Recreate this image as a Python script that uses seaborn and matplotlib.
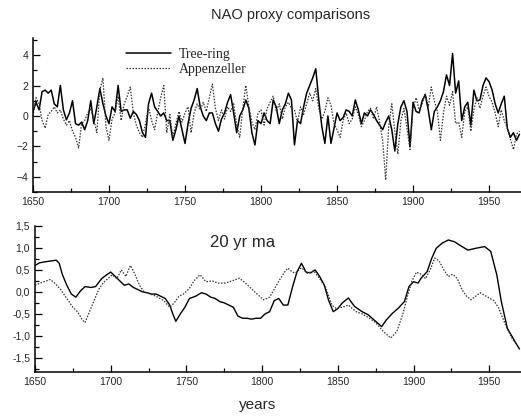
import numpy as np
import pandas as pd
import seaborn as sns
import matplotlib.pyplot as plt
from matplotlib.ticker import MultipleLocator, FuncFormatter

# annual proxies sampled every 2 years, 1650-1970
years = np.arange(1650, 1971, 2)
tree_ring = [0.3, 0.9, 0.4, 1.6, 1.7, 1.5, 1.7, 0.8, 0.6, 2.0,
             0.4, -0.25, 0.2, 1.0, -0.5, -0.6, -0.4, -0.9, -0.3, 1.0,
             -0.5, 0.6, 1.8, 0.8, 0.0, -0.5, 0.6, 0.3, 2.0, 0.3,
             0.4, 0.4, -0.15, 0.3, 0.1, -0.3, -1.1, -1.4, 0.8, 1.5,
             0.6, 0.3, 0.0, 0.2, -0.3, -0.3, -1.6, -0.9, 0.0, -0.9,
             -1.8, -0.5, 0.5, 1.05, 1.8, 0.6, 0.0, -0.3, 0.2, 0.2,
             -0.5, -1.0, -0.2, 0.2, 0.9, 1.4, 0.2, -1.1, 0.0, 0.4,
             1.05, 0.5, -1.1, -1.9, -0.3, -0.5, 0.2, -0.3, -0.5, 1.05,
             0.6, -0.5, 0.4, 0.8, 1.5, 1.05, -1.9, -0.3, -0.5, 0.6,
             1.5, 2.0, 2.5, 3.1, 1.05, -0.7, -1.8, 0.0, -1.8, -0.8,
             0.2, -0.3, -0.1, 0.4, 0.3, 0.0, 1.05, 0.4, -0.5, 0.2,
             0.0, 0.4, 0.1, -0.3, -0.6, -0.9, -0.4, 0.0, -0.9, -2.3,
             -0.5, 0.6, 1.0, 0.3, -2.0, 0.9, 0.3, 0.2, 1.0, 1.4,
             0.4, -0.9, 0.3, 0.6, 1.0, 1.6, 2.7, 2.0, 4.1, 1.5,
             2.3, -0.3, 0.6, 0.9, -0.6, 1.7, 1.0, 1.05, 2.0, 2.5,
             2.25, 1.7, 0.8, 0.2, 0.8, 1.3, -0.8, -1.4, -1.1, -1.6,
             -1.2]
appenzeller = [0.0, 1.2, 0.8, -0.3, -0.8, 0.1, 0.3, 0.6, 0.2, 0.4,
               -0.2, -0.6, -0.3, -1.0, -1.4, -2.1, -0.5, -0.3, 0.2, 0.5,
               -0.2, -1.1, 1.7, 2.5, -0.7, -1.6, -0.2, 0.2, 1.3, -0.3,
               0.8, 1.3, 1.9, 0.2, -0.6, -1.1, -1.4, -0.5, 0.6, -0.3,
               -0.9, 0.2, 1.2, 2.0, -1.1, 0.1, -1.4, -0.5, 0.3, -0.4,
               0.2, 0.6, -1.1, 0.2, 0.8, 0.4, 0.9, 0.3, 1.2, 2.1,
               0.5, -0.3, 0.4, -0.2, 0.6, 0.3, 0.8, -0.6, -1.4, 0.5,
               2.0, 0.6, -0.4, -0.9, 0.2, 0.4, -0.6, 0.5, 0.9, 1.3,
               0.3, 0.8, -0.2, 0.6, 0.9, 0.5, 0.4, -0.4, 0.6, 0.1,
               0.8, 1.5, 1.0, 1.8, 0.5, -0.2, 0.3, 1.2, 0.7, -0.5,
               -0.9, -1.4, -0.3, 0.2, -0.5, -0.2, 0.6, 0.1, -0.7, -0.3,
               0.3, 0.5, -0.2, 0.6, -0.4, -1.6, -4.2, -0.7, 0.8, -1.0,
               -2.5, -0.3, 0.5, -0.8, -2.2, 0.5, 1.2, 0.4, 0.8, 1.5,
               0.6, 1.9, 1.0, 0.3, -1.6, 0.2, 1.3, 0.7, 1.6, -0.5,
               -0.4, -1.4, 0.3, 0.6, -1.0, 0.4, 1.2, 0.5, 1.3, 1.9,
               1.3, 0.9, 0.2, -0.7, 0.4, -0.3, -0.8, -1.5, -2.2, -1.2,
               -1.0]

# 20 yr moving averages
tree_ma_years = [1650, 1653, 1656, 1660, 1664, 1666, 1668, 1671, 1674, 1677,
                 1680, 1683, 1687, 1690, 1694, 1697, 1700, 1703, 1706, 1709,
                 1712, 1715, 1718, 1721, 1724, 1727, 1730, 1733, 1736, 1739,
                 1741, 1743, 1746, 1749, 1752, 1756, 1760, 1763, 1766, 1769,
                 1772, 1775, 1778, 1781, 1784, 1787, 1790, 1793, 1796, 1799,
                 1802, 1805, 1808, 1811, 1814, 1817, 1820, 1823, 1826, 1829,
                 1832, 1835, 1838, 1841, 1844, 1847, 1850, 1853, 1857, 1861,
                 1866, 1870, 1875, 1879, 1882, 1886, 1890, 1894, 1897, 1900,
                 1903, 1905, 1909, 1912, 1915, 1919, 1923, 1927, 1932, 1936,
                 1941, 1947, 1951, 1955, 1958, 1962, 1967, 1970]
tree_ma = [0.6, 0.66, 0.68, 0.7, 0.72, 0.65, 0.4, 0.15, -0.05, -0.12,
           0.02, 0.12, 0.1, 0.12, 0.3, 0.38, 0.45, 0.35, 0.25, 0.15,
           0.18, 0.1, 0.05, 0.0, -0.02, -0.05, -0.05, -0.1, -0.15, -0.3,
           -0.5, -0.67, -0.5, -0.35, -0.15, -0.1, -0.02, -0.05, -0.12, -0.15,
           -0.22, -0.25, -0.3, -0.35, -0.55, -0.6, -0.6, -0.62, -0.6, -0.6,
           -0.5, -0.45, -0.2, -0.15, -0.3, -0.3, 0.1, 0.45, 0.65, 0.45,
           0.43, 0.5, 0.35, 0.16, -0.2, -0.45, -0.38, -0.25, -0.14, -0.33,
           -0.45, -0.52, -0.67, -0.79, -0.64, -0.49, -0.37, -0.22, 0.12, 0.23,
           0.2, 0.31, 0.46, 0.76, 0.99, 1.11, 1.18, 1.14, 1.03, 0.95,
           0.99, 1.03, 0.92, 0.39, -0.22, -0.83, -1.13, -1.3]
app_ma_years = [1650, 1655, 1660, 1663, 1667, 1671, 1675, 1678, 1681, 1683,
                1686, 1689, 1692, 1695, 1698, 1701, 1704, 1707, 1710, 1713,
                1716, 1719, 1722, 1726, 1730, 1735, 1739, 1742, 1745, 1748,
                1752, 1755, 1759, 1763, 1767, 1771, 1776, 1780, 1785, 1789,
                1792, 1796, 1801, 1805, 1809, 1812, 1815, 1817, 1820, 1822,
                1826, 1830, 1834, 1838, 1842, 1846, 1849, 1853, 1857, 1862,
                1866, 1870, 1875, 1880, 1885, 1889, 1893, 1896, 1899, 1902,
                1905, 1908, 1911, 1914, 1917, 1920, 1923, 1926, 1929, 1932,
                1935, 1938, 1941, 1944, 1947, 1950, 1953, 1956, 1959, 1962,
                1965, 1968]
app_ma = [0.15, 0.22, 0.28, 0.2, 0.05, -0.15, -0.35, -0.45, -0.62, -0.7,
          -0.45, -0.2, 0.05, 0.2, 0.3, 0.39, 0.3, 0.5, 0.35, 0.6,
          0.4, 0.15, 0.0, -0.05, -0.1, -0.2, -0.35, -0.25, -0.1, -0.05,
          0.08, 0.25, 0.39, 0.23, 0.25, 0.2, 0.2, 0.25, 0.31, 0.2,
          0.1, -0.03, -0.18, -0.12, 0.12, 0.3, 0.46, 0.54, 0.45, 0.43,
          0.55, 0.42, 0.48, 0.3, 0.1, -0.3, -0.38, -0.35, -0.3, -0.45,
          -0.5, -0.58, -0.7, -0.9, -1.05, -0.9, -0.5, -0.1, 0.25, 0.45,
          0.4, 0.3, 0.5, 0.77, 0.7, 0.5, 0.35, 0.4, 0.3, 0.05,
          -0.1, -0.18, -0.1, -0.02, -0.08, -0.14, -0.2, -0.35, -0.6, -0.85,
          -1.05, -1.2]

sns.set_style("ticks")
plt.rcParams['font.family'] = ['Liberation Sans', 'DejaVu Sans']

fig = plt.figure(figsize=(5.21, 4.16), dpi=100)
ax1 = fig.add_axes([0.0633, 0.538, 0.9367, 0.370])
ax2 = fig.add_axes([0.0672, 0.106, 0.9328, 0.351])

dotted = (0, (1.2, 1.2))
sns.lineplot(x=years, y=tree_ring, ax=ax1, color='black', lw=1.1, label='Tree-ring')
sns.lineplot(x=years, y=appenzeller, ax=ax1, color='#333333', lw=0.9,
             linestyle=dotted, label='Appenzeller')
sns.lineplot(x=tree_ma_years, y=tree_ma, ax=ax2, color='black', lw=1.0)
sns.lineplot(x=app_ma_years, y=app_ma, ax=ax2, color='#333333', lw=0.9, linestyle=dotted)

ax1.set_xlim(1650, 1971)
ax1.set_ylim(-5, 5.1)
ax1.yaxis.set_major_locator(MultipleLocator(2))
ax1.yaxis.set_minor_locator(MultipleLocator(1))

ax2.set_xlim(1650, 1971)
ax2.set_ylim(-1.82, 1.5)
ax2.yaxis.set_major_locator(MultipleLocator(0.5))
ax2.yaxis.set_minor_locator(MultipleLocator(0.25))
ax2.yaxis.set_major_formatter(FuncFormatter(lambda v, p: f"{v:.1f}".replace('.', ',').replace('-0,0', '0,0')))

for ax in (ax1, ax2):
    ax.xaxis.set_major_locator(MultipleLocator(50))
    ax.xaxis.set_minor_locator(MultipleLocator(25))
    ax.tick_params(which='both', direction='in', labelsize=7.5, width=0.9, color='black')
    ax.tick_params(which='major', length=5)
    ax.tick_params(which='minor', length=3)
    ax.tick_params(axis='x', pad=3.5)
    sns.despine(ax=ax)
    for s in ('left', 'bottom'):
        ax.spines[s].set_linewidth(1.1)
        ax.spines[s].set_color('black')
    ax.set_xlabel('')
    ax.set_ylabel('')

ax1.legend(loc='upper left', bbox_to_anchor=(0.218, 0.915), bbox_transform=fig.transFigure,
           frameon=False, handlelength=3.2, handletextpad=0.6, labelspacing=0.15,
           prop={'family': 'Liberation Serif', 'size': 10})

fig.text(0.557, 0.963, 'NAO proxy comparisons', ha='center', va='center', fontsize=10.5)
fig.text(0.403, 0.418, '20 yr ma', ha='left', va='center', fontsize=12)
fig.text(0.495, 0.027, 'years', ha='center', va='center', fontsize=11)

fig.savefig('out.png', dpi=100)
